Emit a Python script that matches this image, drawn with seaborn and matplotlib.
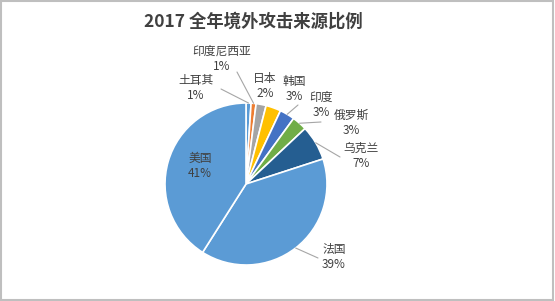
import matplotlib
matplotlib.use("Agg")
import matplotlib.pyplot as plt
import seaborn as sns
import numpy as np
from matplotlib.patches import Rectangle

# Data
countries = ["土耳其", "印度尼西亚", "日本", "韩国", "印度", "俄罗斯", "乌克兰", "法国", "美国"]
shares = [1, 1, 2, 3, 3, 3, 7, 39, 41]
colors = ["#5B9BD5", "#ED7D31", "#A5A5A5", "#FFC000", "#4472C4",
          "#70AD47", "#255E91", "#5B9BD5", "#5B9BD5"]
title = "2017 全年境外攻击来源比例"

# Layout (pixel positions in the 555x301 picture, y measured from top)
W, H = 555, 301
CENTER = (246, 184)
RADIUS = 81
label_pos = [(196, 88), (222, 59), (265, 86), (294, 89), (321, 105),
             (351, 123), (361, 156), (334, 257), (200, 166)]
leader_end = [(221, 89), (237, 72), None, None, (298, 105),
              (321, 122), (340, 157), (318, 258), None]

sns.set_style("white")
plt.rcParams["font.family"] = ["Noto Sans CJK SC", "DejaVu Sans"]

fig = plt.figure(figsize=(W / 100, H / 100), dpi=100)
ax = fig.add_axes([0, 0, 1, 1])

wedges, _ = ax.pie(
    shares,
    colors=colors,
    startangle=90,
    counterclock=False,
    center=(CENTER[0], H - CENTER[1]),
    radius=RADIUS,
    wedgeprops=dict(edgecolor="white", linewidth=1.2),
    frame=True,
)
ax.set_xlim(0, W)
ax.set_ylim(0, H)
ax.set_aspect("equal")
ax.axis("off")

for w, name, val, pos, end in zip(wedges, countries, shares, label_pos, leader_end):
    ax.text(pos[0], H - pos[1], f"{name}\n{val}%", ha="center", va="center",
            fontsize=8.5, color="#404040", linespacing=1.2)
    if end is not None:
        mid = np.deg2rad((w.theta1 + w.theta2) / 2)
        ex = CENTER[0] + RADIUS * np.cos(mid)
        ey = H - CENTER[1] + RADIUS * np.sin(mid)
        ax.plot([ex, end[0]], [ey, H - end[1]], color="#A6A6A6", lw=0.8)

fig.text(253 / W, 1 - 22 / H, title, ha="center", va="center",
         fontsize=12.5, fontweight="bold", color="#404040")

fig.patches.append(Rectangle((0.001, 0.004), 0.996, 0.994, transform=fig.transFigure,
                             fill=False, edgecolor="#BFBFBF", lw=1.5))

fig.savefig("out.png", dpi=100)
